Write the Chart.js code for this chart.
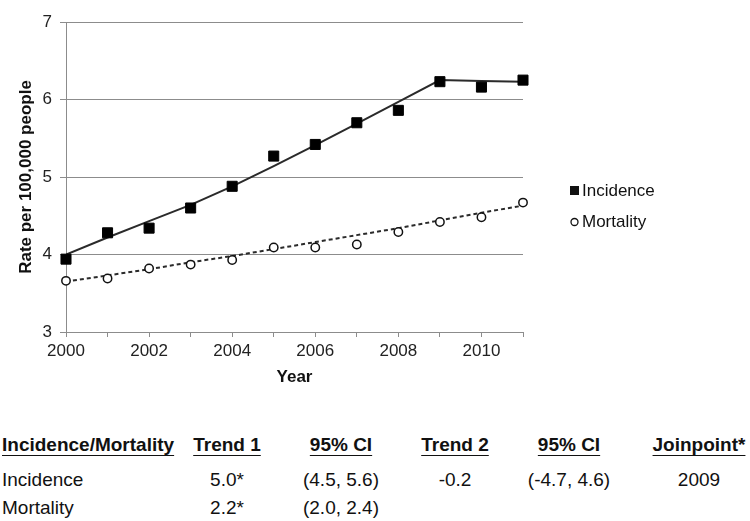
<!DOCTYPE html>
<html><head><meta charset="utf-8">
<script src="https://cdn.jsdelivr.net/npm/chart.js@4.4.1/dist/chart.umd.min.js"></script>
<style>
html,body{margin:0;padding:0;background:#fff;}
#wrap{position:relative;width:750px;height:521px;overflow:hidden;font-family:"Liberation Sans",Arial,sans-serif;color:#111;}
#c{position:absolute;left:0;top:0;}
.cell{position:absolute;font-size:19px;white-space:nowrap;line-height:22px;height:22px;}
.h{font-weight:bold;text-decoration:underline;text-underline-offset:4px;}
</style></head><body>
<div id="wrap"><canvas id="c" width="750" height="400" style="width:750px;height:400px"></canvas><div id="tbl"></div></div>
<script>
const years = [2000, 2001, 2002, 2003, 2004, 2005, 2006, 2007, 2008, 2009, 2010, 2011];
const incidence = [3.94, 4.28, 4.34, 4.60, 4.88, 5.27, 5.42, 5.70, 5.86, 6.23, 6.16, 6.25];
const mortality = [3.66, 3.69, 3.82, 3.87, 3.93, 4.09, 4.09, 4.13, 4.29, 4.42, 4.48, 4.67];
const incidenceFit = [4.00, 4.22, 4.43, 4.64, 4.88, 5.14, 5.41, 5.69, 5.97, 6.25, 6.24, 6.23];
const mortalityFit = [3.65, 3.73, 3.81, 3.90, 3.98, 4.07, 4.16, 4.25, 4.34, 4.44, 4.54, 4.63];
const yTickValues = [3, 4, 5, 6, 7];
const xLabelYears = [2000, 2002, 2004, 2006, 2008, 2010];
const seriesNames = ['Incidence', 'Mortality'];
const tableHeader = ['Incidence/Mortality', 'Trend 1', '95% CI', 'Trend 2', '95% CI', 'Joinpoint*'];
const rowIncidence = ['Incidence', '5.0*', '(4.5, 5.6)', '-0.2', '(-4.7, 4.6)', '2009'];
const rowMortality = ['Mortality', '2.2*', '(2.0, 2.4)', '', '', ''];

const FONT = '"Liberation Sans", Arial, sans-serif';
const GRID = '#8c8c8c';
const pts = arr => years.map((y, i) => ({x: y, y: arr[i]}));

const legendPlugin = {
  id: 'sideLegend',
  afterDraw(chart) {
    const ctx = chart.ctx;
    const r = chart.chartArea.right;
    ctx.save();
    ctx.font = '17px ' + FONT;
    ctx.fillStyle = '#111';
    ctx.textBaseline = 'middle';
    ctx.textAlign = 'left';
    ctx.fillRect(r + 47, 186, 9, 9);
    ctx.fillText(seriesNames[0], r + 59, 191);
    ctx.beginPath();
    ctx.lineWidth = 1.3;
    ctx.strokeStyle = '#111';
    ctx.arc(r + 51.5, 222, 3.5, 0, Math.PI * 2);
    ctx.stroke();
    ctx.fillText(seriesNames[1], r + 59, 222);
    ctx.restore();
  }
};

new Chart(document.getElementById('c'), {
  type: 'line',
  data: {
    datasets: [
      {label: seriesNames[0], data: pts(incidence), showLine: false, pointStyle: 'rect', clip: false,
       pointRadius: 7.1, pointBorderWidth: 1, pointBackgroundColor: '#000', pointBorderColor: '#000', order: 0},
      {label: seriesNames[1], data: pts(mortality), showLine: false, pointStyle: 'circle', clip: false,
       pointRadius: 4.2, pointBorderWidth: 1.5, pointBackgroundColor: '#fff', pointBorderColor: '#111', order: 0},
      {label: 'Incidence fit', data: pts(incidenceFit), borderColor: '#2a2a2a', borderWidth: 2,
       pointRadius: 0, tension: 0, fill: false, order: 1},
      {label: 'Mortality fit', data: pts(mortalityFit), borderColor: '#2a2a2a', borderWidth: 2,
       borderDash: [4, 3], pointRadius: 0, tension: 0, fill: false, order: 1}
    ]
  },
  options: {
    responsive: false,
    animation: false,
    devicePixelRatio: 1,
    layout: {padding: {left: 0, top: 22, right: 227, bottom: 0}},
    plugins: {legend: {display: false}, tooltip: {enabled: false}},
    scales: {
      x: {
        type: 'linear', min: years[0], max: years[years.length - 1], offset: false,
        afterFit(s) { s.height = 68; },
        ticks: {stepSize: 1, autoSkip: false, maxRotation: 0, padding: 4,
          color: '#222', font: {family: FONT, size: 17},
          callback: v => xLabelYears.includes(v) ? String(v) : ''},
        grid: {drawOnChartArea: false, drawTicks: true, tickLength: 5, color: GRID, lineWidth: 1},
        border: {display: true, color: GRID, width: 1},
        title: {display: true, text: 'Year', color: '#111',
          font: {family: FONT, size: 17, weight: 'bold'}, padding: {top: 0, bottom: 12}}
      },
      y: {
        min: yTickValues[0], max: yTickValues[yTickValues.length - 1],
        afterFit(s) { s.width = 66; },
        afterBuildTicks(s) { s.ticks = yTickValues.map(v => ({value: v})); },
        ticks: {padding: 8, color: '#222', font: {family: FONT, size: 17}},
        grid: {color: GRID, lineWidth: 1, drawTicks: true, tickLength: 6},
        border: {display: true, color: GRID, width: 1},
        title: {display: true, text: 'Rate per 100,000 people', color: '#111',
          font: {family: FONT, size: 17, weight: 'bold'}, padding: {top: 16, bottom: 0}}
      }
    }
  },
  plugins: [legendPlugin]
});

const tbl = document.getElementById('tbl');
const colCenters = [null, 227, 341, 455, 569, 699];
const rowCenters = [445, 480, 508];
[tableHeader, rowIncidence, rowMortality].forEach((row, ri) => {
  row.forEach((txt, ci) => {
    if (!txt) return;
    const d = document.createElement('div');
    d.className = 'cell' + (ri === 0 ? ' h' : '');
    d.textContent = txt;
    d.style.top = (rowCenters[ri] - 11) + 'px';
    if (ci === 0) { d.style.left = '2px'; }
    else { d.style.left = (colCenters[ci] - 80) + 'px'; d.style.width = '160px'; d.style.textAlign = 'center'; }
    tbl.appendChild(d);
  });
});
</script>
</body></html>
